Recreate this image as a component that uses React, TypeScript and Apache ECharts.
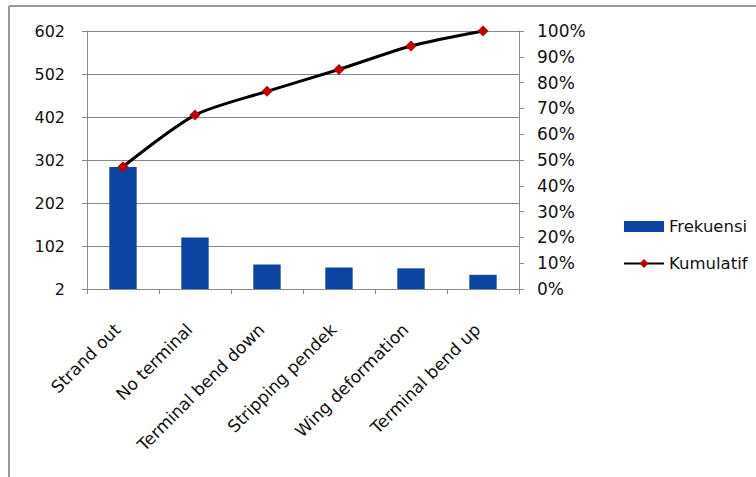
import React, { useEffect, useRef } from "react";
import * as echarts from "echarts";

const categories = [
  "Strand out",
  "No terminal",
  "Terminal bend down",
  "Stripping pendek",
  "Wing deformation",
  "Terminal bend up",
];
const frekuensi = [286, 122, 59, 52, 50, 35];
const kumulatif = [47.4, 67.4, 76.6, 85.1, 94.2, 100];
const leftTicks = { min: 2, max: 602, interval: 100 };
const rightTicks = { min: 0, max: 100, interval: 10 };

export default function App() {
  const ref = useRef<HTMLDivElement>(null);
  useEffect(() => {
    document.body.style.margin = "0";
    const chart = echarts.init(ref.current!, null, { renderer: "svg" });
    const font = "'DejaVu Sans', sans-serif";
    chart.setOption({
      animation: false,
      backgroundColor: "#fff",
      textStyle: { fontFamily: font },
      grid: { left: 87, right: 237, top: 31, bottom: 188, containLabel: false },
      legend: {
        orient: "vertical",
        left: 618,
        top: 213,
        itemWidth: 40,
        itemHeight: 11,
        itemGap: 20,
        textStyle: { fontSize: 16.5, color: "#111", fontFamily: font },
        data: [
          { name: "Frekuensi", icon: "rect" },
          { name: "Kumulatif" },
        ],
      },
      xAxis: {
        type: "category",
        data: categories,
        axisLine: { lineStyle: { color: "#888", width: 1 } },
        axisTick: { show: true, alignWithLabel: false, length: 5, lineStyle: { color: "#888" } },
        axisLabel: {
          rotate: 45,
          interval: 0,
          fontSize: 17,
          color: "#111",
          margin: 32,
          padding: [0, 8, 0, 0],
          fontFamily: font,
        },
      },
      yAxis: [
        {
          type: "value",
          min: leftTicks.min,
          max: leftTicks.max,
          interval: leftTicks.interval,
          axisLine: { show: true, lineStyle: { color: "#888" } },
          axisTick: { show: true, length: 5, lineStyle: { color: "#888" } },
          axisLabel: { fontSize: 16, color: "#111", margin: 22, fontFamily: font },
          splitLine: { show: true, lineStyle: { color: "#888", width: 1 } },
        },
        {
          type: "value",
          min: rightTicks.min,
          max: rightTicks.max,
          interval: rightTicks.interval,
          position: "right",
          axisLine: { show: true, lineStyle: { color: "#888" } },
          axisTick: { show: true, length: 5, lineStyle: { color: "#888" } },
          axisLabel: { fontSize: 17, color: "#111", margin: 18, formatter: "{value}%", fontFamily: font },
          splitLine: { show: false },
        },
      ],
      series: [
        {
          name: "Frekuensi",
          type: "bar",
          data: frekuensi,
          barWidth: "38%",
          itemStyle: { color: "#0b44a3" },
          yAxisIndex: 0,
        },
        {
          name: "Kumulatif",
          type: "line",
          data: kumulatif,
          yAxisIndex: 1,
          smooth: 0.25,
          symbol: "diamond",
          symbolSize: 11,
          lineStyle: { color: "#000", width: 3 },
          itemStyle: { color: "#c00000" },
        },
      ],
      graphic: [
        { type: "line", shape: { x1: 9, y1: 6, x2: 756, y2: 6 }, style: { stroke: "#999", lineWidth: 2 } },
        { type: "line", shape: { x1: 9, y1: 6, x2: 9, y2: 477 }, style: { stroke: "#999", lineWidth: 2 } },
      ],
    });
    return () => chart.dispose();
  }, []);
  return <div ref={ref} style={{ width: 756, height: 477 }} />;
}
